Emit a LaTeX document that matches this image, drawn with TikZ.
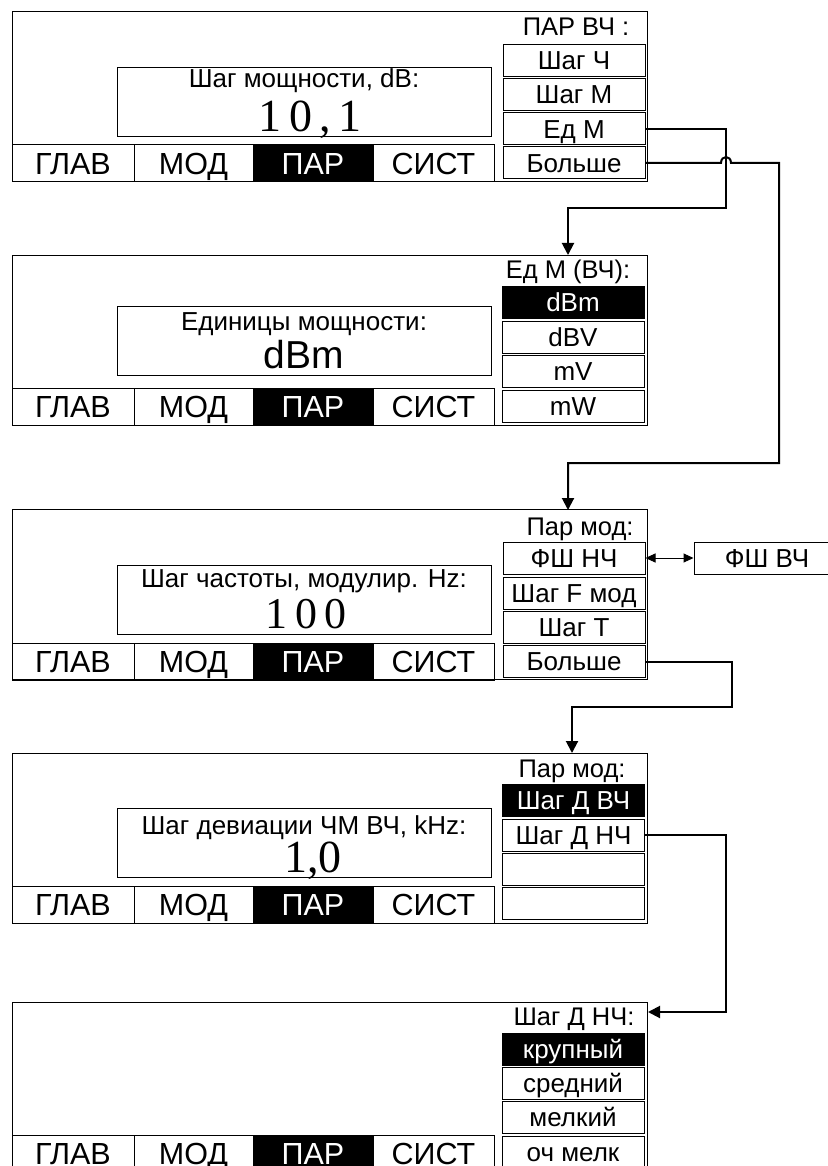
\documentclass[tikz,border=0pt]{standalone}
\usepackage{fontspec}
\setmainfont{Liberation Sans}
\newfontfamily\valserif{Liberation Serif}
\usetikzlibrary{arrows.meta}
\newcommand{\mytabrow}[1]{%
  \node[tab, minimum width=122pt] (#1glav) at (73,151.5) {ГЛАВ};
  \node[tab, minimum width=119pt] (#1mod) at (193.5,151.5) {МОД};
  \node[tabsel, minimum width=120pt] (#1par) at (313,151.5) {ПАР};
  \node[tab, minimum width=121pt] (#1sist) at (433.5,151.5) {СИСТ};
}
\newcommand{\dg}{\hspace{0.16em}}
\begin{document}
\begin{tikzpicture}[x=1pt,y=-1pt,
  frame/.style={draw, line width=1pt, inner sep=0pt, minimum width=635pt, minimum height=170pt},
  box/.style={draw, line width=1pt, inner sep=0pt, text depth=0pt},
  item/.style={box, minimum width=142pt, minimum height=32pt, text height=18.6pt, font=\fontsize{26}{26}\selectfont},
  sel/.style={item, fill=black, text=white},
  tab/.style={box, minimum height=37pt, text height=22pt, font=\fontsize{30.5}{30.5}\selectfont},
  tabsel/.style={tab, fill=black, text=white},
  disp/.style={draw, line width=1pt, inner sep=0pt, minimum width=374pt, minimum height=69pt},
  hdr/.style={inner sep=0pt, anchor=base, font=\fontsize{25.5}{25.5}\selectfont},
  lbl/.style={inner sep=0pt, anchor=base, font=\fontsize{26}{26}\selectfont},
  val/.style={inner sep=0pt, anchor=base, font=\valserif\fontsize{46}{46}\selectfont},
  valsans/.style={inner sep=0pt, anchor=base, font=\fontsize{39}{39}\selectfont},
  conn/.style={line width=2pt, -{Triangle[length=12pt,width=12pt]}},
  dbl/.style={line width=1pt, {Triangle[length=10pt,width=9pt]}-{Triangle[length=10pt,width=9pt]}},
]
\useasboundingbox (0,0) rectangle (827,1166);
\fill[white] (0,0) rectangle (827,1166);

% Panel 1
\begin{scope}[shift={(0,12)}]
  \node[frame] (p1) at (329.5,85) {};
  \mytabrow{p1}
  \node[disp] (p1disp) at (304,90.5) {};
  \node[lbl] (p1lbl) at (304,76) {Шаг мощности, dB:};
  \node[val] (p1val) at (310,120) {1\dg 0\dg ,\dg 1};
  \node[hdr] (p1hdr) at (576,24) {ПАР ВЧ :};
  \node[item] (p1a) at (574,48.5) {Шаг Ч};
  \node[item] (p1b) at (574,82.5) {Шаг М};
  \node[item] (p1c) at (574,117) {Ед М};
  \node[item] (p1d) at (574,151) {Больше};
\end{scope}

% Panel 2
\begin{scope}[shift={(0,255)}]
  \node[frame] (p2) at (329.5,85) {};
  \mytabrow{p2}
  \node[disp] (p2disp) at (304,85.5) {};
  \node[lbl] (p2lbl) at (304,75) {Единицы мощности:};
  \node[valsans] (p2val) at (304,113) {dBm};
  \node[hdr] (p2hdr) at (568,23) {Ед М (ВЧ):};
  \node[sel] (p2a) at (573,47.5) {dBm};
  \node[item] (p2b) at (573,82) {dBV};
  \node[item] (p2c) at (573,116) {mV};
  \node[item] (p2d) at (573,151) {mW};
\end{scope}

% Panel 3
\begin{scope}[shift={(0,510)}]
  \node[frame] (p3) at (329.5,84.5) {};
  \mytabrow{p3}
  \node[disp] (p3disp) at (304,89.5) {};
  \node[lbl] (p3lbl) at (304,77) {Шаг частоты, модулир. Hz:};
  \node[val, font=\valserif\fontsize{44}{44}\selectfont] (p3val) at (306,118) {1\dg 0\dg 0};
  \node[hdr] (p3hdr) at (580,25) {Пар мод:};
  \node[item] (p3a) at (574,48) {ФШ НЧ};
  \node[item] (p3b) at (574,83) {Шаг F мод};
  \node[item] (p3c) at (574,117) {Шаг T};
  \node[item] (p3d) at (574,151.5) {Больше};
\end{scope}

% Panel 4
\begin{scope}[shift={(0,753)}]
  \node[frame] (p4) at (329.5,85) {};
  \mytabrow{p4}
  \node[disp] (p4disp) at (304,90) {};
  \node[lbl] (p4lbl) at (304,81) {Шаг девиации ЧМ ВЧ, kHz:};
  \node[val] (p4val) at (313,119) {1,0};
  \node[hdr] (p4hdr) at (572,24) {Пар мод:};
  \node[sel] (p4a) at (573.5,47) {Шаг Д ВЧ};
  \node[item] (p4b) at (573.5,82) {Шаг Д НЧ};
  \node[item] (p4c) at (573.5,116) {};
  \node[item] (p4d) at (573.5,150.5) {};
\end{scope}

% Panel 5
\begin{scope}[shift={(0,1002)}]
  \node[frame] (p5) at (329.5,85) {};
  \mytabrow{p5}
  \node[hdr] (p5hdr) at (574,23) {Шаг Д НЧ:};
  \node[sel] (p5a) at (573,47) {крупный};
  \node[item] (p5b) at (573,81) {средний};
  \node[item] (p5c) at (573,115.5) {мелкий};
  \node[item] (p5d) at (573,150) {оч мелк};
\end{scope}

% side box
\node[item, minimum width=146pt] (fsh) at (767,558) {ФШ ВЧ};

% connectors
\coordinate (t2) at (568,255);
\coordinate (t3) at (568,510);
\coordinate (t4) at (572,753);
\coordinate (t5) at (648,1012);
\draw[conn] (p1c.east) -| (726,208) -| (t2);
\draw[conn] (p1d.east) -- (721,163) .. controls (721,155) and (731,155) .. (731,163) -- (779,163) |- (568,463) -- (t3);
\draw[conn] (p3d.east) -| (732,707) -| (t4);
\draw[conn] (p4b.east) -| (726,1012) -- (t5);
\draw[dbl] (p3a.east) -- (fsh.west);
\end{tikzpicture}
\end{document}
